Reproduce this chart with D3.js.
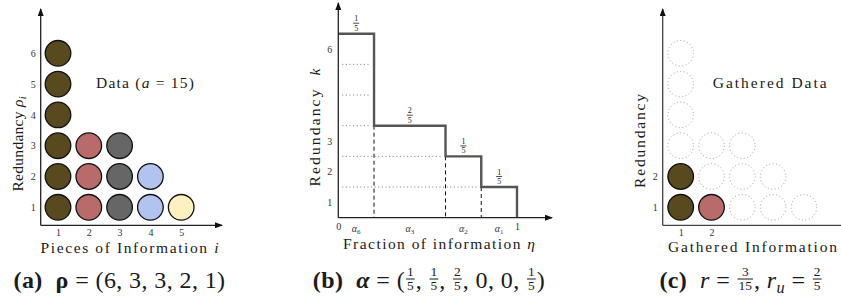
<!DOCTYPE html>
<html lang="en">
<head>
<meta charset="UTF-8">
<title>Redundancy of gathered information</title>
<script src="https://cdn.jsdelivr.net/npm/d3@7"></script>
<style>
  body { margin: 0; background: #fff; }
  svg { display: block; }
  text { white-space: pre; fill: #1a1a1a; }
</style>
</head>
<body>
<svg id="chart" width="841" height="299" font-family="'Liberation Serif', 'DejaVu Serif', serif"></svg>
<script>
// ---- data ----
const pieces = [1, 2, 3, 4, 5];
const redundancy = [6, 3, 3, 2, 1];            // rho_i
const pieceColors = ["#58491f", "#b96b6b", "#666666", "#b3c3ef", "#fff0c0"];
const alpha = [0.2, 0.2, 0.4, 0, 0, 0.2];      // alpha_k, k = 1..6
const stepTicks = [1, 2, 3, 6];
const etaTicks = [0, 1];
const gathered = [2, 1];                       // gathered copies per piece
const gatheredTicks = [1, 2];

const svg = d3.select("#chart");
const SERIF = "'Liberation Serif', 'DejaVu Serif', serif";

// arrow head for the axes
svg.append("defs").append("marker")
    .attr("id", "arrow")
    .attr("viewBox", "0 0 8 6")
    .attr("refX", 7).attr("refY", 3)
    .attr("markerWidth", 8).attr("markerHeight", 6)
    .attr("markerUnits", "userSpaceOnUse")
    .attr("orient", "auto")
  .append("path")
    .attr("d", "M0,0 L8,3 L0,6 Z")
    .attr("fill", "#111");

const axisLine = (g, x1, y1, x2, y2, arrow, color) => g.append("line")
    .attr("x1", x1).attr("y1", y1).attr("x2", x2).attr("y2", y2)
    .attr("stroke", color || "#222").attr("stroke-width", 1.3)
    .attr("marker-end", arrow ? "url(#arrow)" : null);

// strip d3 axis down to its labels
const labelsOnly = (sel, size) => {
    sel.select(".domain").remove();
    sel.attr("font-family", SERIF).attr("font-size", size);
    sel.selectAll("text").style("fill", "#333");
};

// row of text pieces and stacked fractions, centred at cx
function mathRow(cx, baseline, parts, size) {
    const row = svg.append("g").attr("font-family", SERIF);
    let x = 0;
    parts.forEach(p => {
        if (p.frac) {
            const fs = size * 0.56;
            const bar = baseline - 9;
            const num = row.append("text").attr("text-anchor", "middle").attr("font-size", fs).text(p.frac[0]);
            const den = row.append("text").attr("text-anchor", "middle").attr("font-size", fs).text(p.frac[1]);
            const w = Math.max(num.node().getComputedTextLength(), den.node().getComputedTextLength()) + 4;
            num.attr("x", x + w / 2).attr("y", bar - 3.3);
            den.attr("x", x + w / 2).attr("y", bar + 11);
            row.append("line").attr("x1", x + 1).attr("x2", x + w - 1)
                .attr("y1", bar).attr("y2", bar)
                .attr("stroke", "#1a1a1a").attr("stroke-width", 1);
            x += w;
        } else {
            const t = row.append("text").attr("x", x).attr("y", baseline)
                .attr("font-size", size)
                .attr("letter-spacing", 0.4)
                .attr("font-weight", p.bold ? "bold" : null)
                .attr("font-style", p.italic ? "italic" : null)
                .text(p.t);
            if (p.sub) t.append("tspan").attr("font-size", size * 0.68).attr("dy", size * 0.22).text(p.sub);
            x += t.node().getComputedTextLength();
        }
    });
    row.attr("transform", `translate(${cx - x / 2},0)`);
    return row;
}

// small stacked fraction
function fracAt(g, cx, barY, num, den, fs) {
    g.append("text").attr("x", cx).attr("y", barY - 2).attr("text-anchor", "middle").attr("font-size", fs).text(num);
    g.append("text").attr("x", cx).attr("y", barY + 7.6).attr("text-anchor", "middle").attr("font-size", fs).text(den);
    g.append("line").attr("x1", cx - 3).attr("x2", cx + 3).attr("y1", barY).attr("y2", barY)
        .attr("stroke", "#1a1a1a").attr("stroke-width", 0.8);
}

// ================= (a) data =================
const gA = svg.append("g");
const xA = d3.scaleLinear().domain([1, 5]).range([58, 181.2]);
const yA = d3.scaleLinear().domain([1, 6]).range([207.3, 53.3]);
const axA = { x: 40.7, y: 225.3 };
const cellR = 12.8;

const cellsA = pieces.flatMap((p, i) => d3.range(1, redundancy[i] + 1).map(r => ({ p, r, c: pieceColors[i] })));
gA.selectAll("circle").data(cellsA).join("circle")
    .attr("cx", d => xA(d.p)).attr("cy", d => yA(d.r)).attr("r", cellR)
    .attr("fill", d => d.c).attr("stroke", "#111").attr("stroke-width", 1.3);

axisLine(gA, axA.x, axA.y, axA.x, 9, true);
axisLine(gA, axA.x, axA.y, 222, axA.y, true);

gA.append("g").attr("transform", `translate(0,${axA.y})`)
    .call(d3.axisBottom(xA).tickValues(pieces).tickFormat(d3.format("d")).tickSize(0).tickPadding(4))
    .call(labelsOnly, 10);
gA.append("g").attr("transform", `translate(${axA.x},0)`)
    .call(d3.axisLeft(yA).tickValues(d3.range(1, 7)).tickFormat(d3.format("d")).tickSize(0).tickPadding(5))
    .call(labelsOnly, 10);

gA.append("text").attr("x", 129.5).attr("y", 252.5).attr("text-anchor", "middle")
    .attr("font-size", 15.5).attr("textLength", 178)
    .text("Pieces of Information ")
    .append("tspan").attr("font-style", "italic").text("i");
gA.append("text").attr("transform", "translate(23,144) rotate(-90)").attr("text-anchor", "middle")
    .attr("font-size", 15.5).attr("textLength", 95)
    .text("Redundancy ")
    .call(t => t.append("tspan").attr("font-style", "italic").text("ρ"))
    .call(t => t.append("tspan").attr("font-style", "italic").attr("font-size", 10).attr("dy", 3).text("i"));
gA.append("text").attr("x", 145).attr("y", 87.5).attr("text-anchor", "middle")
    .attr("font-size", 15.5).attr("textLength", 98)
    .text("Data (")
    .call(t => t.append("tspan").attr("font-style", "italic").text("a"))
    .call(t => t.append("tspan").text(" = 15)"));

// ================= (b) step function =================
const gB = svg.append("g");
const xB = d3.scaleLinear().domain([0, 1]).range([338.3, 517]);
const yB = d3.scaleLinear().domain([0, 6]).range([217.7, 33.7]);

// segments of the step, highest redundancy first
const segs = [];
let acc = 0;
for (let k = alpha.length; k >= 1; k--) {
    const a = alpha[k - 1];
    if (a > 0) { segs.push({ k, x0: acc, x1: acc + a, a }); acc += a; }
}

// dotted levels: from 0 to the share with redundancy above the level
d3.range(1, alpha.length).forEach(j => {
    const above = d3.sum(alpha.slice(j));
    gB.append("line")
        .attr("x1", xB(0) + 4).attr("x2", xB(above) - 4)
        .attr("y1", yB(j)).attr("y2", yB(j))
        .attr("stroke", "#777").attr("stroke-width", 1).attr("stroke-dasharray", "1,2.6");
});

// dashed drops
segs.slice(1).forEach(s => {
    gB.append("line")
        .attr("x1", xB(s.x0)).attr("x2", xB(s.x0))
        .attr("y1", yB(s.k)).attr("y2", yB(0))
        .attr("stroke", "#111").attr("stroke-width", 1).attr("stroke-dasharray", "4,3");
});

const stepPts = segs.map(s => [s.x0, s.k]).concat([[1, 0]]);
gB.append("path")
    .attr("d", d3.line().x(d => xB(d[0])).y(d => yB(d[1])).curve(d3.curveStepAfter)(stepPts))
    .attr("fill", "none").attr("stroke", "#555").attr("stroke-width", 2.4);

axisLine(gB, xB(0), yB(0), xB(0), 3, true);
axisLine(gB, xB(0), yB(0), 552, yB(0), true);

gB.append("g").attr("transform", `translate(${xB(0)},0)`)
    .call(d3.axisLeft(yB).tickValues(stepTicks).tickFormat(d3.format("d")).tickSize(0).tickPadding(6))
    .call(labelsOnly, 10)
    .selectAll(".tick text").attr("transform", `translate(0,${(yB(0) - yB(1)) / 2})`);
gB.append("g").attr("transform", `translate(0,${yB(0)})`)
    .call(d3.axisBottom(xB).tickValues(etaTicks).tickFormat(d3.format("d")).tickSize(0).tickPadding(5))
    .call(labelsOnly, 10);

segs.forEach(s => {
    const cx = xB((s.x0 + s.x1) / 2);
    gB.append("text").attr("x", cx).attr("y", yB(0) + 14).attr("text-anchor", "middle")
        .attr("font-size", 10).attr("font-style", "italic").style("fill", "#333").text("α")
        .append("tspan").attr("font-style", "normal").attr("font-size", 7).attr("dy", 2).text(s.k);
    const den = 5, num = Math.round(s.a * den);
    fracAt(gB, cx, yB(s.k) - 10.5, num, den, 8);
});

gB.append("text").attr("x", 439).attr("y", 248.5).attr("text-anchor", "middle")
    .attr("font-size", 15.5).attr("textLength", 192)
    .text("Fraction of information ")
    .append("tspan").attr("font-style", "italic").text("η");
gB.append("text").attr("transform", "translate(320,127.5) rotate(-90)").attr("text-anchor", "middle")
    .attr("font-size", 15.5).attr("textLength", 118)
    .text("Redundancy  ")
    .append("tspan").attr("font-style", "italic").text("k");

// ================= (c) gathered data =================
const gC = svg.append("g");
const xC = d3.scaleLinear().domain([1, 5]).range([680.7, 803.9]);
const yC = d3.scaleLinear().domain([1, 6]).range([207.3, 53.3]);
const axC = { x: 662.7, y: 225.3 };

const ghost = cellsA.filter(d => d.r > (gathered[d.p - 1] || 0));
const got = cellsA.filter(d => d.r <= (gathered[d.p - 1] || 0));
gC.selectAll("circle.ghost").data(ghost).join("circle").attr("class", "ghost")
    .attr("cx", d => xC(d.p)).attr("cy", d => yC(d.r)).attr("r", cellR)
    .attr("fill", "none").attr("stroke", "#888").attr("stroke-width", 0.9).attr("stroke-dasharray", "0.9,2.6");
gC.selectAll("circle.got").data(got).join("circle").attr("class", "got")
    .attr("cx", d => xC(d.p)).attr("cy", d => yC(d.r)).attr("r", cellR)
    .attr("fill", d => d.c).attr("stroke", "#111").attr("stroke-width", 1.3);

axisLine(gC, axC.x, axC.y, axC.x, 9, true, "#444");
axisLine(gC, axC.x, axC.y, 841, axC.y, false, "#444");

gC.append("g").attr("transform", `translate(0,${axC.y})`)
    .call(d3.axisBottom(xC).tickValues(gatheredTicks).tickFormat(d3.format("d")).tickSize(0).tickPadding(4))
    .call(labelsOnly, 10);
gC.append("g").attr("transform", `translate(${axC.x},0)`)
    .call(d3.axisLeft(yC).tickValues(gatheredTicks).tickFormat(d3.format("d")).tickSize(0).tickPadding(5))
    .call(labelsOnly, 10);

gC.append("text").attr("x", 752.5).attr("y", 252).attr("text-anchor", "middle")
    .attr("font-size", 15.5).attr("textLength", 169).text("Gathered Information");
gC.append("text").attr("transform", "translate(645,141) rotate(-90)").attr("text-anchor", "middle")
    .attr("font-size", 15.5).attr("textLength", 94).text("Redundancy");
gC.append("text").attr("x", 769.7).attr("y", 87.5).attr("text-anchor", "middle")
    .attr("font-size", 15.5).attr("textLength", 114).text("Gathered Data");

// ================= captions =================
mathRow(119.5, 288, [
    { t: "(a)  ", bold: true }, { t: "ρ", bold: true }, { t: " = (6, 3, 3, 2, 1)" }
], 24);
mathRow(429, 288, [
    { t: "(b)  ", bold: true }, { t: "α", bold: true, italic: true }, { t: " = (" },
    { frac: ["1", "5"] }, { t: ", " }, { frac: ["1", "5"] }, { t: ", " }, { frac: ["2", "5"] },
    { t: ", 0, 0, " }, { frac: ["1", "5"] }, { t: ")" }
], 24);
mathRow(741, 288, [
    { t: "(c)  ", bold: true }, { t: "r", italic: true }, { t: " = " }, { frac: ["3", "15"] },
    { t: ", " }, { t: "r", italic: true, sub: "u" }, { t: " = " }, { frac: ["2", "5"] }
], 24);
</script>
</body>
</html>
